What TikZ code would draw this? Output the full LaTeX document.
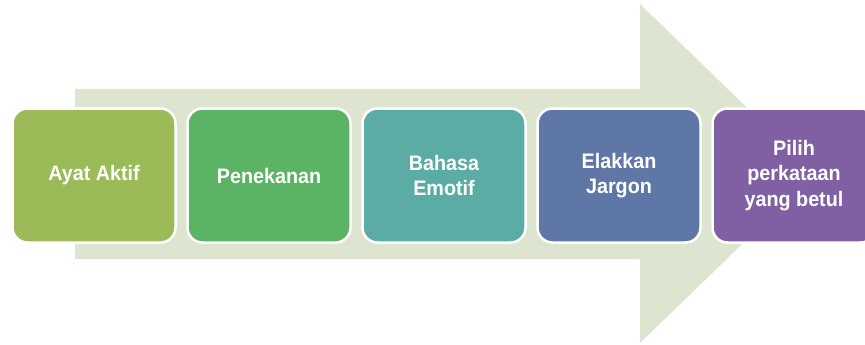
\documentclass[tikz,border=0pt]{standalone}
\usepackage{fontspec}
\setmainfont{Liberation Sans}[FakeStretch=0.94]
\definecolor{arrowc}{RGB}{221,229,208}
\definecolor{cA}{RGB}{155,187,89}
\definecolor{cB}{RGB}{91,179,100}
\definecolor{cC}{RGB}{91,172,164}
\definecolor{cD}{RGB}{94,119,167}
\definecolor{cE}{RGB}{128,96,162}
\begin{document}
\begin{tikzpicture}[x=1pt,y=-1pt,
  stepbox/.style={draw=white, line width=2.5pt, rounded corners=15pt,
    minimum width=163pt, minimum height=134pt, inner sep=0pt,
    text=white, align=center, font=\fontsize{21}{25.5}\selectfont\bfseries}]
\useasboundingbox (0,0) rectangle (865,345);
\fill[arrowc] (75,89) -- (640,89) -- (640,4) -- (815,173.5) -- (640,343) -- (640,259) -- (75,259) -- cycle;
\node[stepbox, fill=cA] (b1) at (94,175.5) {Ayat Aktif};
\node[stepbox, fill=cB] (b2) at (269,175.5) {Penekanan};
\node[stepbox, fill=cC] (b3) at (444,175.5) {Bahasa\\Emotif};
\node[stepbox, fill=cD] (b4) at (619,175.5) {Elakkan\\Jargon};
\node[stepbox, fill=cE] (b5) at (794,175.5) {Pilih\\perkataan\\yang betul};
\end{tikzpicture}
\end{document}
